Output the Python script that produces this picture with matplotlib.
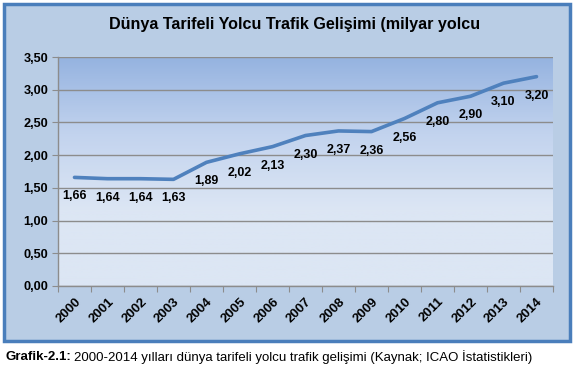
import numpy as np
import matplotlib.pyplot as plt
from matplotlib.patches import Rectangle
from matplotlib.colors import LinearSegmentedColormap

plt.rcParams['font.family'] = ['Liberation Sans', 'DejaVu Sans']

years = ['2000', '2001', '2002', '2003', '2004', '2005', '2006', '2007',
         '2008', '2009', '2010', '2011', '2012', '2013', '2014']
values = [1.66, 1.64, 1.64, 1.63, 1.89, 2.02, 2.13, 2.30,
          2.37, 2.36, 2.56, 2.80, 2.90, 3.10, 3.20]
yticks = [0.0, 0.5, 1.0, 1.5, 2.0, 2.5, 3.0, 3.5]

W, H = 578, 375
fig = plt.figure(figsize=(W / 100, H / 100), dpi=100)

# outer chart frame
frame = Rectangle((4 / W, 1 - 341 / H), 566 / W, 337 / H, transform=fig.transFigure,
                  facecolor='#b9cde5', edgecolor='#4a7ebb', linewidth=2.5, zorder=-1)
fig.patches.append(frame)

ax = fig.add_axes([58 / W, 1 - 286 / H, 495 / W, 229 / H])
ax.set_facecolor('none')

# gradient fill of the plot area
cmap = LinearSegmentedColormap.from_list('bg', ['#dce6f4', '#dce6f4', '#c2d3ee', '#95b3e0'])
grad = np.linspace(0, 1, 256).reshape(-1, 1)
ax.imshow(grad, cmap=cmap, aspect='auto', extent=[0, 1, 0, 1], origin='lower',
          transform=ax.transAxes, zorder=0)

x = np.arange(len(years))
ax.plot(x, values, color='#4f81bd', linewidth=2.6, zorder=3, solid_capstyle='round')

for xi, v in zip(x, values):
    ax.annotate(f'{v:.2f}'.replace('.', ','), (xi, v), xytext=(0, -19),
                textcoords='offset pixels',
                ha='center', va='center', fontsize=9, fontweight='bold', zorder=4)

ax.set_xlim(-0.5, len(years) - 0.5)
ax.set_ylim(0, 3.5)
ax.set_yticks(yticks)
ax.set_yticklabels([f'{t:.2f}'.replace('.', ',') for t in yticks],
                   fontsize=9.2, fontweight='bold')
ax.yaxis.grid(True, color='#8c8c8c', linewidth=1, zorder=1)
ax.set_axisbelow(False)

ax.set_xticks(np.arange(-0.5, len(years) + 0.5, 1))
ax.set_xticklabels([])
ax.set_xticks(x, minor=True)
ax.set_xticklabels(years, minor=True, rotation=45, ha='right', va='top',
                   fontsize=9.5, fontweight='bold', rotation_mode='anchor')
ax.tick_params(axis='x', which='minor', length=0, pad=7)
ax.tick_params(axis='x', which='major', length=4, color='#8c8c8c', direction='out')
ax.tick_params(axis='y', length=4, color='#8c8c8c', direction='out', pad=3)

for s in ['top', 'right']:
    ax.spines[s].set_visible(False)
for s in ['left', 'bottom']:
    ax.spines[s].set_color('#8c8c8c')
    ax.spines[s].set_linewidth(1)

fig.text(295 / W, 1 - 24 / H, 'Dünya Tarifeli Yolcu Trafik Gelişimi (milyar yolcu',
         ha='center', va='center', fontsize=11.6, fontweight='bold')

t1 = fig.text(5 / W, 1 - 357 / H, 'Grafik-2.1:', ha='left', va='center',
              fontsize=9.5, fontweight='bold')
fig.canvas.draw()
bb = t1.get_window_extent()
fig.text((bb.x1 + 3) / W, 1 - 357 / H,
         '2000-2014 yılları dünya tarifeli yolcu trafik gelişimi (Kaynak; ICAO İstatistikleri)',
         ha='left', va='center', fontsize=9.5)

fig.savefig('out.png', dpi=100)
